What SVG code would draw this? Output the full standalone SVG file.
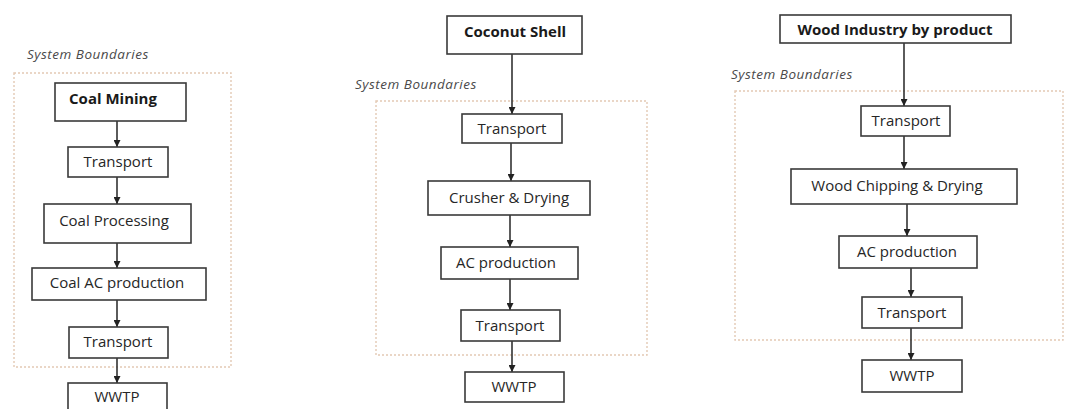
<svg xmlns="http://www.w3.org/2000/svg" width="1065" height="409" viewBox="0 0 1065 409">
  <defs>
    <marker id="arrow" viewBox="0 0 10 10" refX="10" refY="5" markerWidth="7" markerHeight="7" markerUnits="userSpaceOnUse" orient="auto">
      <path d="M0,0 L10,5 L0,10 z" fill="#222"/>
    </marker>
    <style>
      .box { fill: #fff; stroke: #3a3a3a; stroke-width: 1.6; }
      .lbl { font-family: "Open Sans", "Liberation Sans", sans-serif; font-size: 15px; fill: #262626; text-anchor: middle; }
      .bold { font-weight: bold; fill: #1a1a1a; }
      .sys { font-family: "Open Sans", "Liberation Sans", sans-serif; font-size: 13.5px; letter-spacing: 0.5px; font-style: italic; fill: #4a4a4a; }
      .bound { fill: none; stroke: #e3c9b4; stroke-width: 1.4; stroke-dasharray: 2 2; }
      .conn { stroke: #333; stroke-width: 1.6; fill: none; marker-end: url(#arrow); }
    </style>
  </defs>
  <rect width="1065" height="409" fill="#fff"/>

  <!-- system boundaries -->
  <g id="boundaries">
    <rect class="bound" x="14" y="73" width="217" height="294"/>
    <text class="sys" x="27" y="59">System Boundaries</text>
    <rect class="bound" x="376" y="101" width="271" height="254"/>
    <text class="sys" x="355" y="89">System Boundaries</text>
    <rect class="bound" x="735" y="91" width="328" height="249"/>
    <text class="sys" x="731" y="79">System Boundaries</text>
  </g>

  <!-- connectors -->
  <g id="connectors">
    <line class="conn" x1="117" y1="121" x2="117" y2="147"/>
    <line class="conn" x1="117" y1="177" x2="117" y2="204"/>
    <line class="conn" x1="117" y1="243" x2="117" y2="268"/>
    <line class="conn" x1="117" y1="300" x2="117" y2="327"/>
    <line class="conn" x1="117" y1="358" x2="117" y2="383"/>

    <line class="conn" x1="512" y1="54" x2="512" y2="114"/>
    <line class="conn" x1="511" y1="143" x2="511" y2="181"/>
    <line class="conn" x1="510" y1="215" x2="510" y2="247"/>
    <line class="conn" x1="510" y1="279" x2="510" y2="310"/>
    <line class="conn" x1="512" y1="341" x2="512" y2="372"/>

    <line class="conn" x1="904" y1="43" x2="904" y2="106"/>
    <line class="conn" x1="904" y1="136" x2="904" y2="169"/>
    <line class="conn" x1="907" y1="204" x2="907" y2="236"/>
    <line class="conn" x1="911" y1="268" x2="911" y2="297"/>
    <line class="conn" x1="911" y1="328" x2="911" y2="360"/>
  </g>

  <!-- coal chain -->
  <g id="coal-mining">
    <rect class="box" x="55" y="83" width="131" height="38"/>
    <text class="lbl bold" x="113" y="104">Coal Mining</text>
  </g>
  <g id="coal-transport-1">
    <rect class="box" x="68" y="147" width="100" height="30"/>
    <text class="lbl" x="118" y="167">Transport</text>
  </g>
  <g id="coal-processing">
    <rect class="box" x="44" y="204" width="147" height="39"/>
    <text class="lbl" x="114" y="226">Coal Processing</text>
  </g>
  <g id="coal-ac-production">
    <rect class="box" x="32" y="268" width="174" height="32"/>
    <text class="lbl" x="117" y="288">Coal AC production</text>
  </g>
  <g id="coal-transport-2">
    <rect class="box" x="69" y="327" width="99" height="31"/>
    <text class="lbl" x="118" y="347">Transport</text>
  </g>
  <g id="coal-wwtp">
    <rect class="box" x="68" y="383" width="99" height="32"/>
    <text class="lbl" x="117" y="402">WWTP</text>
  </g>

  <!-- coconut shell chain -->
  <g id="coconut-shell">
    <rect class="box" x="447" y="16" width="135" height="38"/>
    <text class="lbl bold" x="515" y="37">Coconut Shell</text>
  </g>
  <g id="coconut-transport-1">
    <rect class="box" x="462" y="114" width="100" height="29"/>
    <text class="lbl" x="512" y="134">Transport</text>
  </g>
  <g id="crusher-drying">
    <rect class="box" x="428" y="181" width="162" height="34"/>
    <text class="lbl" x="509" y="203">Crusher &amp; Drying</text>
  </g>
  <g id="coconut-ac-production">
    <rect class="box" x="441" y="247" width="137" height="32"/>
    <text class="lbl" x="506" y="268">AC production</text>
  </g>
  <g id="coconut-transport-2">
    <rect class="box" x="461" y="310" width="99" height="31"/>
    <text class="lbl" x="510" y="331">Transport</text>
  </g>
  <g id="coconut-wwtp">
    <rect class="box" x="465" y="372" width="99" height="30"/>
    <text class="lbl" x="514" y="392">WWTP</text>
  </g>

  <!-- wood by-product chain -->
  <g id="wood-byproduct">
    <rect class="box" x="780" y="15" width="231" height="28"/>
    <text class="lbl bold" x="895" y="35">Wood Industry by product</text>
  </g>
  <g id="wood-transport-1">
    <rect class="box" x="861" y="106" width="89" height="30"/>
    <text class="lbl" x="906" y="126">Transport</text>
  </g>
  <g id="wood-chipping-drying">
    <rect class="box" x="791" y="169" width="226" height="35"/>
    <text class="lbl" x="897" y="191">Wood Chipping &amp; Drying</text>
  </g>
  <g id="wood-ac-production">
    <rect class="box" x="839" y="236" width="138" height="32"/>
    <text class="lbl" x="907" y="257">AC production</text>
  </g>
  <g id="wood-transport-2">
    <rect class="box" x="862" y="297" width="100" height="31"/>
    <text class="lbl" x="912" y="318">Transport</text>
  </g>
  <g id="wood-wwtp">
    <rect class="box" x="862" y="360" width="100" height="32"/>
    <text class="lbl" x="912" y="381">WWTP</text>
  </g>
</svg>
